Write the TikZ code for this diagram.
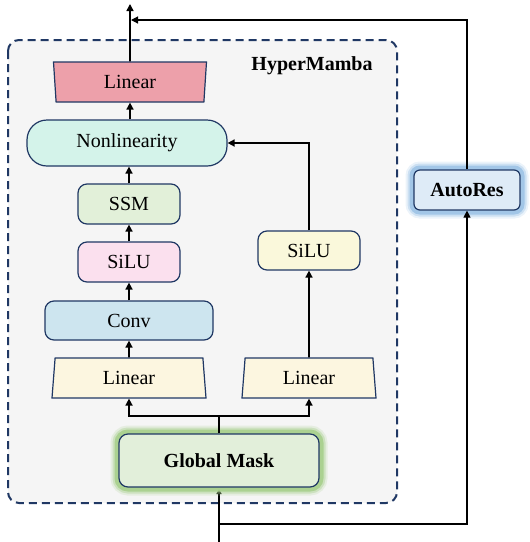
\documentclass[tikz,border=0pt]{standalone}
\usepackage{fontspec}
\setmainfont{Liberation Serif}
\usetikzlibrary{shapes.geometric,arrows.meta}

\definecolor{navy}{HTML}{203864}
\definecolor{framebg}{HTML}{F5F5F5}
\definecolor{linpink}{HTML}{EDA0AA}
\definecolor{linyellow}{HTML}{FCF6E0}
\definecolor{nonlinfill}{HTML}{D4F3EA}
\definecolor{ssmfill}{HTML}{E2F0D9}
\definecolor{silupink}{HTML}{FBE0EE}
\definecolor{siluyellow}{HTML}{FAF8DB}
\definecolor{convfill}{HTML}{CDE5EF}
\definecolor{maskfill}{HTML}{E2EFDA}
\definecolor{maskglow}{HTML}{A8D08D}
\definecolor{resfill}{HTML}{DEEBF7}
\definecolor{resglow}{HTML}{9DC3E6}

\begin{document}
\begin{tikzpicture}[
    x=1pt, y=-1pt,
    font=\fontsize{20}{24}\selectfont,
    line/.style={draw=black, line width=1.6pt},
    arrow/.style={line, -{Triangle[width=7pt, length=7pt]}},
    thin arrow/.style={arrow, line width=1.1pt},
    frame/.style={draw=navy, fill=framebg, line width=2pt,
        dash pattern=on 8pt off 5pt, rounded corners=11pt},
    block/.style={draw=navy, line width=1.2pt, rounded corners=9pt,
        inner sep=0pt, align=center},
    pill/.style={block, rounded corners=20pt},
    trap/.style={draw=navy, line width=1.2pt, trapezium,
        trapezium stretches body, inner sep=0pt},
    glow/.style={preaction={draw=#1, line width=17pt, opacity=.2},
        preaction={draw=#1, line width=13pt, opacity=.4},
        preaction={draw=#1, line width=9pt, opacity=.9}}
]
\useasboundingbox (0,0) rectangle (530,542);

% HyperMamba frame
\draw[frame] (8,40) rectangle (397,503);
\node[font=\fontsize{20}{24}\selectfont\bfseries] (title) at (312,66) {HyperMamba};

% input arrow runs under the mask glow
\coordinate (in) at (219,542);
\draw[arrow, -{Triangle[width=5pt, length=5pt]}] (in) -- (219,489);

% left branch
\node[block, glow=maskglow, fill=maskfill, minimum width=200pt,
    minimum height=53pt, font=\fontsize{20}{24}\selectfont\bfseries]
    (mask) at (219,460.5) {Global Mask};
\node[trap, fill=linyellow, trapezium angle=77, minimum width=154pt,
    minimum height=40pt] (linL) at (129,378) {Linear};
\node[block, fill=convfill, minimum width=168pt, minimum height=39pt]
    (conv) at (129,320.5) {Conv};
\node[block, fill=silupink, minimum width=102pt, minimum height=40pt]
    (siluL) at (129,262) {SiLU};
\node[block, fill=ssmfill, minimum width=102pt, minimum height=40pt]
    (ssm) at (129,204) {SSM};
\node[pill, fill=nonlinfill, minimum width=200pt, minimum height=46pt]
    (nonlin) at (127,143) {Nonlinearity};
\node[trap, fill=linpink, trapezium angle=101, minimum width=153pt,
    minimum height=40pt] (linTop) at (130,82) {Linear};

% right branch
\node[trap, fill=linyellow, trapezium angle=77, minimum width=134pt,
    minimum height=40pt] (linR) at (309,378) {Linear};
\node[block, fill=siluyellow, minimum width=102pt, minimum height=39pt]
    (siluR) at (309,250.5) {SiLU};

% residual
\node[block, glow=resglow, fill=resfill, minimum width=106pt,
    minimum height=40pt, rounded corners=6pt,
    font=\fontsize{20}{24}\selectfont\bfseries] (autores) at (467,190) {AutoRes};

\coordinate (branch) at (219,524);
\coordinate (split) at (219,416);
\coordinate (out) at (130,4);
\coordinate (join) at (131,20);

% connectors
\draw[line] (mask.north) -- (split);
\draw[arrow] (split) -| (linL.south);
\draw[arrow] (split) -| (linR.south);
\draw[arrow] (linL.north) -- (conv.south);
\draw[arrow] (conv.north) -- (siluL.south);
\draw[arrow] (siluL.north) -- (ssm.south);
\draw[arrow] (ssm.north) -- (ssm.north |- nonlin.south);
\draw[arrow] (linR.north) -- (siluR.south);
\draw[arrow] (siluR.north) |- (nonlin.east);
\draw[arrow] (linTop.south |- nonlin.north) -- (linTop.south);
\draw[arrow] (linTop.north) -- (out);
\draw[thin arrow] (branch) -| (autores.south);
\draw[thin arrow] (autores.north) |- (join);

\end{tikzpicture}
\end{document}
